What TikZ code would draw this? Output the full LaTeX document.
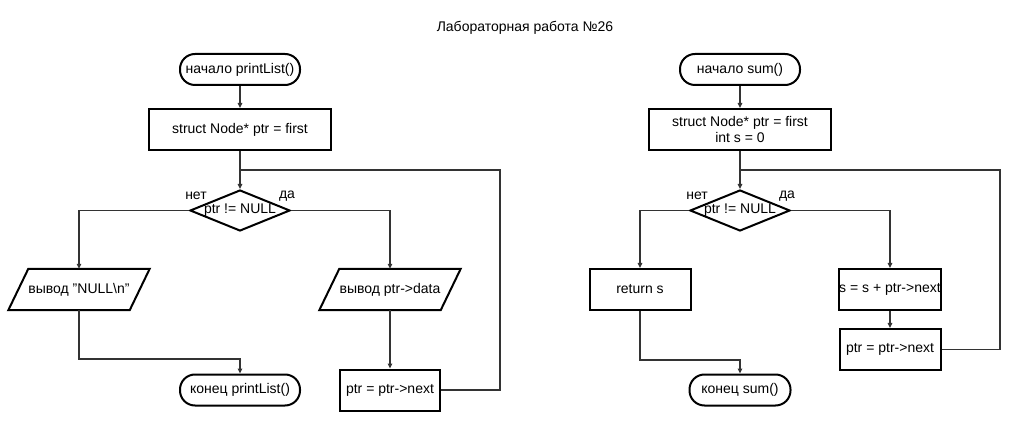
\documentclass[tikz,border=0pt]{standalone}
\usepackage{fontspec}
\setmainfont{Liberation Sans}
\usetikzlibrary{arrows.meta,shapes.geometric}
\begin{document}
\begin{tikzpicture}[x=1pt,y=-1pt,
  every node/.style={font=\fontsize{14}{16}\selectfont, inner sep=0pt, align=center},
  shp/.style={draw=black, line width=2pt},
  term/.style={shp, rounded corners=15pt, minimum width=120pt, minimum height=31pt},
  proc/.style={shp, minimum width=182pt, minimum height=41pt},
  sproc/.style={shp, minimum width=101pt, minimum height=41pt},
  dec/.style={shp, diamond, minimum width=100pt, minimum height=41pt},
  io/.style={minimum width=121pt, minimum height=41pt},
  conn/.style={draw=black!80, line width=1.6pt},
  arr/.style={conn, -{Triangle[length=5pt,width=4.5pt]}},
]
\useasboundingbox (0,0) rectangle (1020,430);
\node (title) at (525,28) {Лабораторная работа №26};

% ---------- left chart ----------
\node[term] (s1) at (240,69.5) {начало printList()};
\node[proc] (p1) at (240,129.5) {struct Node* ptr = first};
\node[dec] (d1) at (240,210.5) {};
\node (d1t) at (240,210) {ptr != NULL};
\node (no1) at (196,196) {нет};
\node (yes1) at (287,196) {да};
\node[io] (o1) at (79,289.5) {вывод "NULL\textbackslash n"};
\draw[shp, line join=miter] ([xshift=10pt]o1.north west) -- ([xshift=10pt]o1.north east) -- ([xshift=-10pt]o1.south east) -- ([xshift=-10pt]o1.south west) -- cycle;
\node[io] (o2) at (390,289.5) {вывод ptr->data};
\draw[shp, line join=miter] ([xshift=10pt]o2.north west) -- ([xshift=10pt]o2.north east) -- ([xshift=-10pt]o2.south east) -- ([xshift=-10pt]o2.south west) -- cycle;
\node[sproc, minimum width=100pt] (r1) at (390,390) {ptr = ptr->next};
\node[term] (e1) at (240,390) {конец printList()};
\coordinate (j1) at (500,170);

\draw[arr] (s1.south) -- (p1.north);
\draw[arr] (p1.south) -- (d1.north);
\draw[arr] (d1.west) -| (o1.north);
\draw[arr] (d1.east) -| (o2.north);
\draw[arr] (o2.south) -- (r1.north);
\draw[arr] (o1.south) -- ++(0,49) -| (e1.north);
\draw[conn] (r1.east) -| (j1) -- (d1.north |- j1);

% ---------- right chart ----------
\node[term] (s2) at (740,69.5) {начало sum()};
\node[proc] (p2) at (740,129.5) {struct Node* ptr = first\\int s = 0};
\node[dec] (d2) at (740,210.5) {};
\node (d2t) at (740,210) {ptr != NULL};
\node (no2) at (697,196) {нет};
\node (yes2) at (787,196) {да};
\node[sproc] (rs) at (640,289.5) {return s};
\node[sproc] (a2) at (890,289.5) {s = s + ptr->next};
\node[sproc] (b2) at (890,349.5) {ptr = ptr->next};
\node[term, minimum width=101pt] (e2) at (740,390) {конец sum()};
\coordinate (j2) at (1000,170);

\draw[arr] (s2.south) -- (p2.north);
\draw[arr] (p2.south) -- (d2.north);
\draw[arr] (d2.west) -| (rs.north);
\draw[arr] (d2.east) -| (a2.north);
\draw[arr] (a2.south) -- (b2.north);
\draw[arr] (rs.south) -- ++(0,49) -| (e2.north);
\draw[conn] (b2.east) -| (j2) -- (d2.north |- j2);
\end{tikzpicture}
\end{document}
